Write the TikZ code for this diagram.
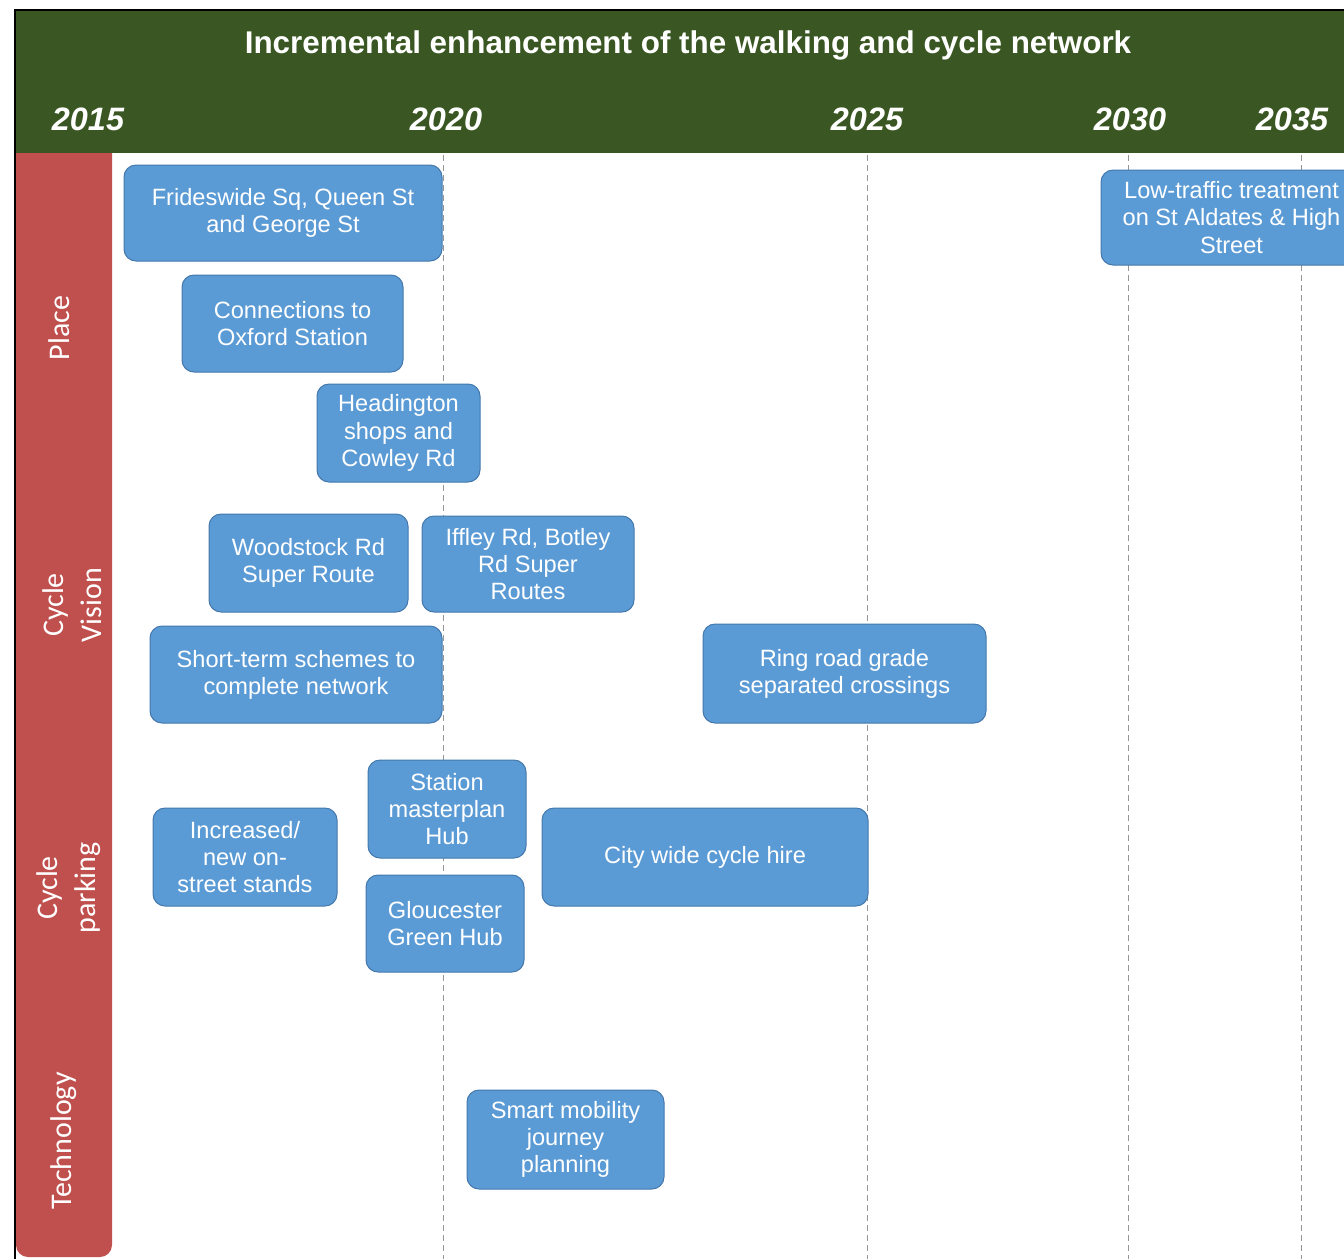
\documentclass[tikz,border=0pt]{standalone}
\usepackage{fontspec}
\setmainfont{Liberation Sans}
\newfontfamily\carlito{Carlito}
\definecolor{hdrgreen}{RGB}{58,87,35}
\definecolor{rowred}{RGB}{192,80,77}
\definecolor{itemblue}{RGB}{91,155,213}
\definecolor{itemedge}{RGB}{68,120,172}
\definecolor{gridgrey}{RGB}{150,150,150}
\begin{document}
\begin{tikzpicture}[x=0.5pt,y=-0.5pt,
  item/.style={draw=itemedge,line width=0.5pt,fill=itemblue,rounded corners=6pt,
    text=white,align=center,inner sep=0pt,font=\fontsize{11.8}{13.6}\selectfont},
  yearlbl/.style={text=white,inner sep=0pt,font=\fontsize{16.2}{18}\selectfont\bfseries\itshape},
  rowlbl/.style={text=white,rotate=90,align=center,inner sep=0pt,
    font=\carlito\fontsize{15}{19}\selectfont},
  gridline/.style={draw=gridgrey,line width=0.5pt,dash pattern=on 3pt off 2pt}]
\useasboundingbox (0,0) rectangle (1344,1259);
\clip (0,0) rectangle (1344,1259);
% frame, rows and header
\fill[rowred,rounded corners=6pt] (16,120) rectangle (112,1257);
\fill[hdrgreen] (16,11) rectangle (1344,153);
\draw[line width=0.75pt] (15,1259) -- (15,10) -- (1344,10);
\node[text=white,font=\fontsize{15.7}{18}\selectfont\bfseries] (title) at (688,45)
  {Incremental enhancement of the walking and cycle network};
% years and guide lines
\node[yearlbl] (y2015) at (88,119) {2015};
\foreach \yr/\px/\lx in {2020/443/446,2025/867/867,2030/1128/1130,2035/1301/1292}{
  \node[yearlbl] (y\yr) at (\lx,119) {\yr};
  \draw[gridline] (\px,155) -- (\px,1259);
}
% row labels
\node[rowlbl] (place) at (59,328) {Place};
\node[rowlbl] (vision) at (72,605) {Cycle\\Vision};
\node[rowlbl] (parking) at (69,888) {Cycle\\parking};
\node[rowlbl] (tech) at (64,1141) {Technology};
% place
\node[item,minimum width=159pt,minimum height=48pt] (frides) at (283,213)
  {Frideswide Sq, Queen St\\and George St};
\node[item,minimum width=110.5pt,minimum height=48.5pt] (conn) at (292.5,323.5)
  {Connections to\\Oxford Station};
\node[item,minimum width=81.5pt,minimum height=49pt] (heading) at (398.5,433)
  {Headington\\shops and\\Cowley Rd};
\node[item,minimum width=130.5pt,minimum height=47.5pt] (lowtraf) at (1231.5,217.5)
  {Low-traffic treatment\\on St Aldates \& High\\Street};
% cycle vision
\node[item,minimum width=99.5pt,minimum height=49pt] (woodst) at (308.5,563)
  {Woodstock Rd\\Super Route};
\node[item,minimum width=106pt,minimum height=48pt] (iffley) at (528,564)
  {Iffley Rd, Botley\\Rd Super\\Routes};
\node[item,minimum width=146pt,minimum height=48.5pt] (short) at (296,674.5)
  {Short-term schemes to\\complete network};
\node[item,minimum width=141.5pt,minimum height=49.5pt] (ring) at (844.5,673.5)
  {Ring road grade\\separated crossings};
% cycle parking
\node[item,minimum width=79pt,minimum height=49pt] (station) at (447,809)
  {Station\\masterplan\\Hub};
\node[item,minimum width=92pt,minimum height=49pt] (stands) at (245,857)
  {Increased/\\new on-\\street stands};
\node[item,minimum width=79pt,minimum height=48.5pt] (glouc) at (445,923.5)
  {Gloucester\\Green Hub};
\node[item,minimum width=163pt,minimum height=49pt] (hire) at (705,857)
  {City wide cycle hire};
% technology
\node[item,minimum width=98.5pt,minimum height=49.5pt] (smart) at (565.5,1139.5)
  {Smart mobility\\journey\\planning};
\end{tikzpicture}
\end{document}
